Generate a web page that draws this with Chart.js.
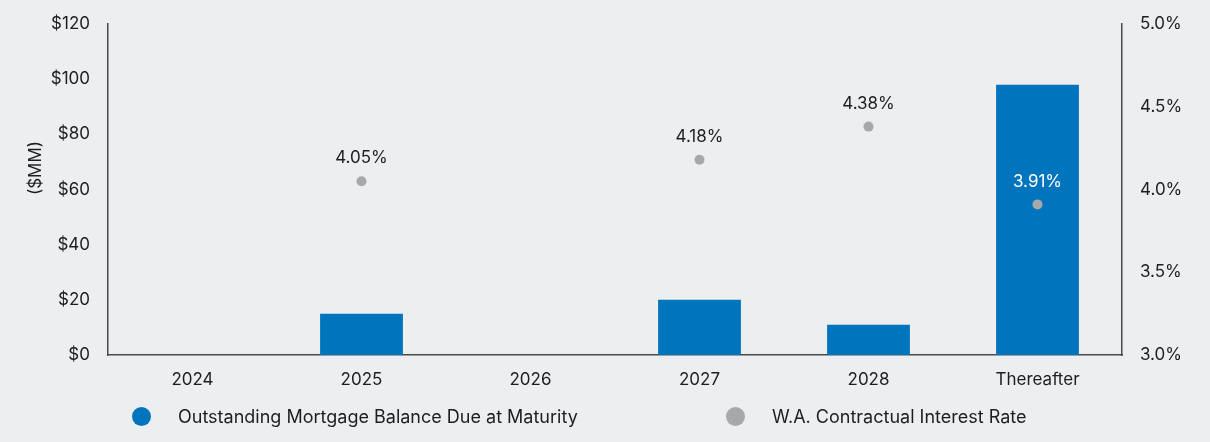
<!DOCTYPE html>
<html>
<head>
<meta charset="utf-8">
<script src="https://cdn.jsdelivr.net/npm/chart.js@4.4.1/dist/chart.umd.min.js"></script>
<style>
  html, body { margin: 0; padding: 0; background: #edeef0; }
  #wrap { position: relative; width: 1210px; height: 442px; }
  #legend { position: absolute; top: 403px; left: 0; width: 1210px; height: 26px;
    font-family: Inter, "Noto Sans", sans-serif; font-size: 18px; color: #1e1e1e; }
  .item { position: absolute; top: 0; display: flex; align-items: center; height: 26px; }
  .dot { width: 19px; height: 19px; border-radius: 50%; margin-right: 27px; }
</style>
</head>
<body>
<div id="wrap">
  <canvas id="mortgageChart" width="1210" height="442"></canvas>
  <div id="legend"></div>
</div>
<script>
const categories = ['2024', '2025', '2026', '2027', '2028', 'Thereafter'];
const balances = [0, 15, 0, 20, 11, 98];
const rates = [null, 4.05, null, 4.18, 4.38, 3.91];
const balanceTicks = [0, 20, 40, 60, 80, 100, 120];
const rateTicks = [3.0, 3.5, 4.0, 4.5, 5.0];

const barColor = '#0074bd';
const dotColor = '#a7a8aa';
const axisColor = '#4a4a4a';
const textColor = '#1e1e1e';
const fontFamily = 'Inter, "Noto Sans", sans-serif';

// percentage labels over the rate points
const rateLabels = {
    id: 'rateLabels',
    afterDatasetsDraw(chart) {
        const meta = chart.getDatasetMeta(1);
        const c = chart.ctx;
        c.save();
        c.font = '17px ' + fontFamily;
        c.textAlign = 'center';
        c.textBaseline = 'middle';
        meta.data.forEach((pt, i) => {
            if (rates[i] == null) return;
            c.fillStyle = i === categories.length - 1 ? '#ffffff' : textColor;
            c.fillText(rates[i].toFixed(2) + '%', pt.x, pt.y - 23);
        });
        c.restore();
    }
};

// rotated "($MM)" title on the left
const axisTitle = {
    id: 'axisTitle',
    afterDraw(chart) {
        const c = chart.ctx;
        c.save();
        c.translate(36, 168);
        c.rotate(-Math.PI / 2);
        c.font = '17px ' + fontFamily;
        c.fillStyle = textColor;
        c.textAlign = 'center';
        c.textBaseline = 'middle';
        c.fillText('($MM)', 0, 0);
        c.restore();
    }
};

function fitSide(width) {
    return function (scale) {
        scale.width = width;
        scale.paddingTop = 0;
        scale.paddingBottom = 0;
    };
}

const ctx = document.getElementById('mortgageChart').getContext('2d');
const mortgageChart = new Chart(ctx, {
    data: {
        labels: categories,
        datasets: [{
            type: 'bar',
            label: 'Outstanding Mortgage Balance Due at Maturity',
            data: balances,
            backgroundColor: barColor,
            barPercentage: 0.49,
            categoryPercentage: 1,
            yAxisID: 'y',
            order: 1
        }, {
            type: 'line',
            label: 'W.A. Contractual Interest Rate',
            data: rates,
            showLine: false,
            pointRadius: 5,
            pointBackgroundColor: dotColor,
            pointBorderWidth: 0,
            yAxisID: 'y1',
            order: 0
        }]
    },
    options: {
        responsive: false,
        animation: false,
        layout: { padding: { top: 24, bottom: 0, left: 0, right: 0 } },
        plugins: { legend: { display: false }, tooltip: { enabled: false } },
        scales: {
            x: {
                grid: { display: false, drawTicks: false },
                border: { color: axisColor, width: 1.5 },
                ticks: { color: textColor, font: { family: fontFamily, size: 17 }, padding: 15 },
                afterFit(scale) { scale.height = 87; }
            },
            y: {
                position: 'left',
                min: 0, max: 120,
                afterBuildTicks(scale) { scale.ticks = balanceTicks.map(v => ({ value: v })); },
                grid: { display: false, drawTicks: false },
                border: { color: axisColor, width: 1.5 },
                ticks: {
                    color: textColor, font: { family: fontFamily, size: 17 }, padding: 18,
                    callback: v => '$' + v
                },
                afterFit: fitSide(108)
            },
            y1: {
                position: 'right',
                min: 3, max: 5,
                afterBuildTicks(scale) { scale.ticks = rateTicks.map(v => ({ value: v })); },
                grid: { display: false, drawTicks: false },
                border: { color: axisColor, width: 1.5 },
                ticks: {
                    color: textColor, font: { family: fontFamily, size: 17 }, padding: 18,
                    callback: v => v.toFixed(1) + '%'
                },
                afterFit: fitSide(88)
            }
        }
    },
    plugins: [rateLabels, axisTitle]
});

// html legend
const legendPos = [132, 726];
const legend = document.getElementById('legend');
mortgageChart.data.datasets.forEach((ds, i) => {
    const item = document.createElement('div');
    item.className = 'item';
    item.style.left = legendPos[i] + 'px';
    const dot = document.createElement('span');
    dot.className = 'dot';
    dot.style.background = i === 0 ? barColor : dotColor;
    item.appendChild(dot);
    item.appendChild(document.createTextNode(ds.label));
    legend.appendChild(item);
});
</script>
</body>
</html>
